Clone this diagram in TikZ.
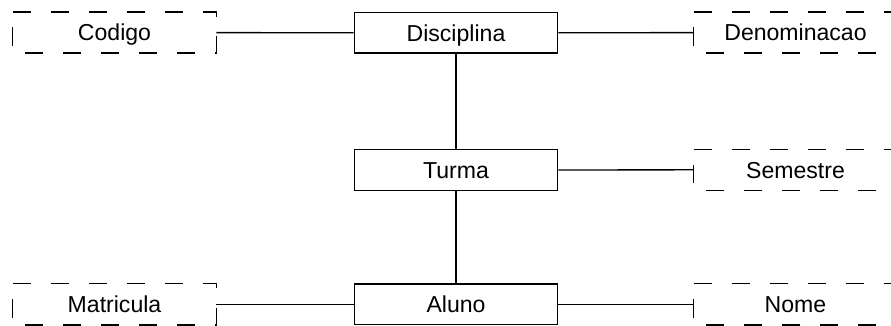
\documentclass[tikz,border=0pt]{standalone}
\usepackage{fontspec}
\setmainfont{Liberation Sans}
\begin{document}
\begin{tikzpicture}[x=0.75pt,y=-0.75pt,
  every node/.style={inner sep=0pt,font=\fontsize{17.3}{20}\selectfont,
    text height=12.4pt,text depth=0pt,minimum width=152.5pt,minimum height=30.4pt},
  entity/.style={draw=black,line width=1pt,fill=white},
  attrib/.style={},
  attrborder/.style={draw=black,line width=1pt,dash pattern=on 13.9pt off 14.6pt},
  link/.style={draw=black,line width=1pt}]
\useasboundingbox (0,0) rectangle (891,325);
\clip (0,0) rectangle (891,325);

% entities
\node[entity] (dis) at (456,32.8) {Disciplina};
\node[entity] (tur) at (456,170) {Turma};
\node[entity] (alu) at (456,304.3) {Aluno};

% attributes
\node[attrib] (cod) at (114.5,32.6) {Codigo};
\node[attrib] (den) at (795.5,32.6) {Denominacao};
\node[attrib] (sem) at (795.5,169.8) {Semestre};
\node[attrib] (mat) at (114.5,304.3) {Matricula};
\node[attrib] (nom) at (795.5,304.3) {Nome};

% dashed attribute borders, traced clockwise from the top-left corner
\foreach \a in {cod,den,sem,mat,nom}
  \draw[attrborder] (\a.north west) -- (\a.north east) -- (\a.south east)
    -- (\a.south west) -- cycle;

% connectors
\draw[link] (cod.east) -- (dis.west);
\draw[link] (dis.east) -- (den.west);
\draw[link] (dis.south) -- (tur.north);
\draw[link] (tur.east) -- (sem.west);
\draw[link] (tur.south) -- (alu.north);
\draw[link] (mat.east) -- (alu.west);
\draw[link] (alu.east) -- (nom.west);
\end{tikzpicture}
\end{document}
